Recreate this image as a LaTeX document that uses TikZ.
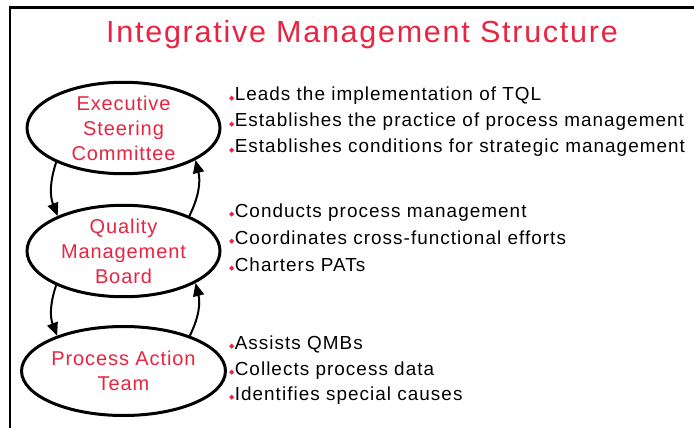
\documentclass[tikz,border=0pt]{standalone}
\usepackage{fontspec}
\setmainfont{Liberation Sans}
\newfontfamily\dejavu{DejaVu Sans}
\newfontfamily\titlefont[LetterSpace=5.7]{Liberation Sans}
\newfontfamily\orgfont[LetterSpace=4.5]{Liberation Sans}
\newfontfamily\itemfont[LetterSpace=5.5]{Liberation Sans}
\usetikzlibrary{arrows.meta,shapes.geometric}
\definecolor{titlered}{RGB}{232,36,64}
\newcommand{\bul}{{\color{titlered}\dejavu\fontsize{7}{7}\selectfont\raisebox{1.0pt}{◆}}\kern0.2pt}
\tikzset{
  org/.style={ellipse, draw=black, line width=3pt, minimum width=193pt, minimum height=89pt,
    inner sep=0pt, align=center, text=titlered, font=\orgfont\fontsize{20}{25}\selectfont},
  item/.style={anchor=base west, inner sep=0pt, font=\itemfont\fontsize{18.9}{22}\selectfont},
  link/.style={line width=2pt, -{Triangle[length=13pt,width=11pt]}, bend right=20}
}
\begin{document}
\begin{tikzpicture}[x=1pt,y=-1pt]
\useasboundingbox (0,0) rectangle (694,428);
\draw[line width=2.5pt] (10,430) -- (10,7.5) -- (696,7.5);
\node[anchor=base, text=titlered, font=\titlefont\fontsize{30.5}{34}\selectfont] (title) at (362,43) {Integrative Management Structure};
\node[org] (esc) at (123.5,128) {Executive\\Steering\\Committee};
\node[org] (qmb) at (123.5,251) {Quality\\Management\\Board};
\node[org] (pat) at (123.5,371) {Process Action\\Team};
\draw[link] (esc.207) to (qmb.152);
\draw[link] (qmb.28) to (esc.336);
\draw[link] (qmb.207) to (pat.152);
\draw[link] (pat.28) to (qmb.336);
\node[item] (b1) at (229,101) {\bul Leads the implementation of TQL};
\node[item] (b2) at (229,127) {\bul Establishes the practice of process management};
\node[item] (b3) at (229,153) {\bul Establishes conditions for strategic management};
\node[item] (b4) at (229,217) {\bul Conducts process management};
\node[item] (b5) at (229,244) {\bul Coordinates cross-functional efforts};
\node[item] (b6) at (229,271) {\bul Charters PATs};
\node[item] (b7) at (229,349) {\bul Assists QMBs};
\node[item] (b8) at (229,375) {\bul Collects process data};
\node[item] (b9) at (229,400) {\bul Identifies special causes};
\end{tikzpicture}
\end{document}
